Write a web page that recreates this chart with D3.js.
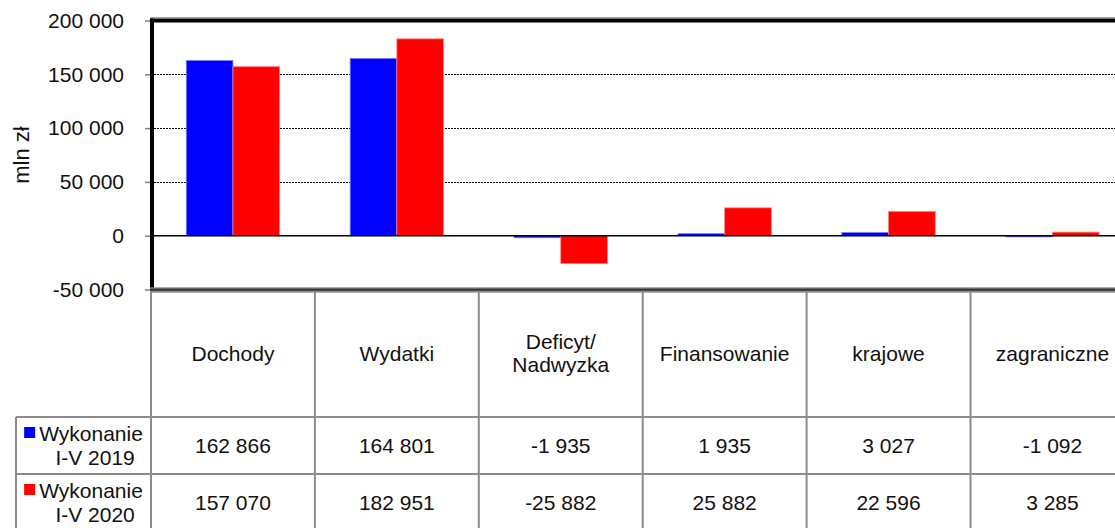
<!DOCTYPE html>
<html><head><meta charset="utf-8">
<script src="https://cdn.jsdelivr.net/npm/d3@7"></script>
<style>body{margin:0;background:#fff} svg{display:block}</style>
</head><body><svg id="c" width="1115" height="528"></svg>
<script>
const categories = ["Dochody", "Wydatki", "Deficyt/\nNadwyzka", "Finansowanie", "krajowe", "zagraniczne"];
const seriesKeys = ["2019", "2020"];
const seriesLabels = [["Wykonanie", "I-V 2019"], ["Wykonanie", "I-V 2020"]];
const values2019 = [162866, 164801, -1935, 1935, 3027, -1092];
const values2020 = [157070, 182951, -25882, 25882, 22596, 3285];
const seriesColors = ["#0000ff", "#ff0000"];
const seriesStroke = ["#8080ff", "#ff8080"];
const yTicks = [-50000, 0, 50000, 100000, 150000, 200000];
const gridTicks = [50000, 100000, 150000];
const yTitle = "mln zł";

const W = 1115, H = 528;
const plotLeft = 151, plotTop = 20.5, plotBottom = 289.5;
const step = 163.9;
const legendLeft = 16;
const headerBottom = 417, row1Bottom = 474, row2Bottom = 531;
const fontFamily = "'Liberation Sans', Arial, sans-serif";

const loc = d3.formatLocale({decimal: ",", thousands: " ", grouping: [3], currency: ["", ""], minus: "-"});
const fmt = loc.format(",d");

const svg = d3.select("#c");

const x0 = d3.scaleBand().domain(categories).range([plotLeft, plotLeft + step * categories.length]).paddingInner(0).paddingOuter(0);
const x1 = d3.scaleBand().domain(seriesKeys).range([0, x0.bandwidth()]).paddingInner(0).paddingOuter(0.756);
const y = d3.scaleLinear().domain([-50000, 200000]).range([plotBottom, plotTop]);

const series = [values2019, values2020];

// gridlines
svg.append("g").selectAll("line").data(gridTicks).join("line")
  .attr("x1", plotLeft + 3).attr("x2", W)
  .attr("y1", d => Math.round(y(d)) + 0.5).attr("y2", d => Math.round(y(d)) + 0.5)
  .attr("stroke", "#000").attr("stroke-width", 1).attr("stroke-dasharray", "2,1");

// bars
const gBars = svg.append("g");
categories.forEach((c, i) => {
  seriesKeys.forEach((k, s) => {
    const v = series[s][i];
    const y0 = y(0), yv = y(v);
    gBars.append("rect")
      .attr("x", x0(c) + x1(k))
      .attr("y", Math.min(y0, yv))
      .attr("width", x1.bandwidth())
      .attr("height", Math.max(1, Math.abs(yv - y0)))
      .attr("fill", seriesColors[s])
      .attr("stroke", seriesStroke[s]).attr("stroke-width", 0.8);
  });
});

// zero line
svg.append("line").attr("x1", plotLeft).attr("x2", W)
  .attr("y1", y(0)).attr("y2", y(0)).attr("stroke", "#000").attr("stroke-width", 1.5);

// y axis ticks & labels
const yAxis = d3.axisLeft(y).tickValues(yTicks).tickFormat(fmt).tickSize(6).tickPadding(21);
const gy = svg.append("g").attr("transform", `translate(${plotLeft},0)`).call(yAxis);
gy.select(".domain").remove();
gy.selectAll(".tick line").attr("stroke", "#808080").attr("stroke-width", 1.5);
gy.selectAll(".tick text").attr("font-family", fontFamily).attr("font-size", 21).attr("fill", "#111");

// y title
svg.append("text").attr("transform", `translate(29,155) rotate(-90)`)
  .attr("text-anchor", "middle").attr("font-family", fontFamily).attr("font-size", 22).attr("fill", "#111")
  .text(yTitle);

// frame: top & left thick black
svg.append("line").attr("x1", plotLeft - 1).attr("x2", W).attr("y1", 17.6).attr("y2", 17.6)
  .attr("stroke", "#999").attr("stroke-width", 1);
svg.append("line").attr("x1", plotLeft - 1).attr("x2", W).attr("y1", plotTop).attr("y2", plotTop)
  .attr("stroke", "#000").attr("stroke-width", 4);
svg.append("line").attr("x1", plotLeft + 1).attr("x2", plotLeft + 1).attr("y1", 18.5).attr("y2", plotBottom)
  .attr("stroke", "#000").attr("stroke-width", 4);

// table grid
const gridColor = "#8c8c8c";
const tg = svg.append("g").attr("stroke", gridColor).attr("stroke-width", 2);
d3.range(categories.length + 1).forEach(i => {
  const xx = plotLeft + step * i;
  tg.append("line").attr("x1", xx).attr("x2", xx).attr("y1", plotBottom).attr("y2", row2Bottom);
});
tg.append("line").attr("x1", legendLeft).attr("x2", legendLeft).attr("y1", headerBottom).attr("y2", row2Bottom);
[headerBottom, row1Bottom].forEach(yy => {
  tg.append("line").attr("x1", legendLeft).attr("x2", W).attr("y1", yy).attr("y2", yy);
});

// bottom border of plot (double line)
svg.append("rect").attr("x", plotLeft - 1).attr("y", 287.3).attr("width", W - plotLeft + 1).attr("height", 5.4).attr("fill", "#8a8a8a");
svg.append("rect").attr("x", plotLeft - 1).attr("y", 288.7).attr("width", W - plotLeft + 1).attr("height", 2).attr("fill", "#333");

// header labels
const headerMid = (plotBottom + headerBottom) / 2;
categories.forEach(c => {
  const lines = c.split("\n");
  const cx = x0(c) + x0.bandwidth() / 2;
  const lh = 23.6;
  lines.forEach((l, j) => {
    svg.append("text").attr("x", cx).attr("y", headerMid + (j - (lines.length - 1) / 2) * lh)
      .attr("dy", "0.35em").attr("text-anchor", "middle").attr("fill", "#111")
      .attr("font-family", fontFamily).attr("font-size", 21).text(l);
  });
});

// value rows
const rowMids = [(headerBottom + row1Bottom) / 2, (row1Bottom + row2Bottom) / 2];
series.forEach((vals, s) => {
  categories.forEach((c, i) => {
    svg.append("text").attr("x", x0(c) + x0.bandwidth() / 2).attr("y", rowMids[s])
      .attr("dy", "0.35em").attr("text-anchor", "middle").attr("fill", "#111")
      .attr("font-family", fontFamily).attr("font-size", 21).text(fmt(vals[i]));
  });
  // legend cell
  const cellCx = (legendLeft + plotLeft) / 2;
  const t1 = svg.append("text").attr("y", rowMids[s] - 12).attr("dy", "0.35em").attr("fill", "#111")
    .attr("font-family", fontFamily).attr("font-size", 21).text(seriesLabels[s][0]);
  const tw = t1.node().getComputedTextLength();
  const sq = 11, gap = 4;
  const startX = cellCx - (sq + gap + tw) / 2;
  svg.append("rect").attr("x", startX).attr("y", rowMids[s] - 12 - 6.5).attr("width", sq).attr("height", sq)
    .attr("fill", seriesColors[s]);
  t1.attr("x", startX + sq + gap);
  svg.append("text").attr("x", (startX + sq + gap + plotLeft) / 2).attr("y", rowMids[s] + 12).attr("dy", "0.35em")
    .attr("text-anchor", "middle").attr("fill", "#111").attr("font-family", fontFamily).attr("font-size", 21).text(seriesLabels[s][1]);
});
</script></body></html>
